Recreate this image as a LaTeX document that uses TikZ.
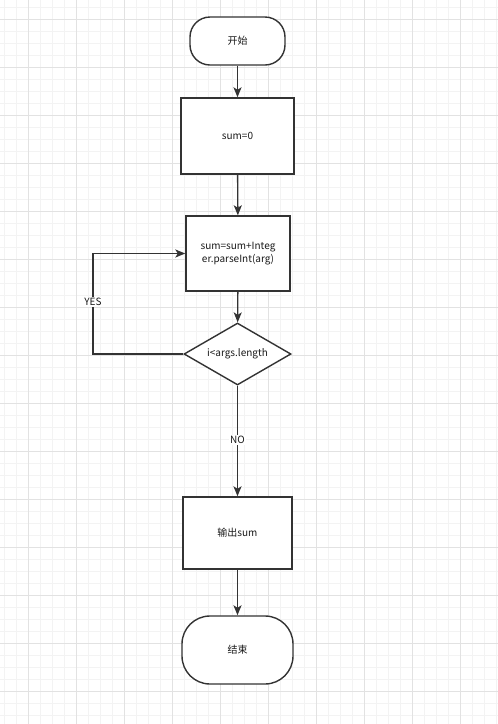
\documentclass[tikz,border=0pt]{standalone}
\usepackage{fontspec}
\setmainfont{Noto Sans CJK SC}
\usetikzlibrary{shapes.geometric,arrows.meta}
\definecolor{lineC}{HTML}{333333}
\definecolor{gridMinor}{HTML}{F3F3F3}
\definecolor{gridMajor}{HTML}{E2E2E2}
\begin{document}
\begin{tikzpicture}[x=1pt,y=-1pt,
  box/.style={draw=lineC,line width=1.4pt,fill=white,rectangle,inner sep=0pt,font=\fontsize{10}{12.5}\selectfont,align=center,text=black!90},
  term/.style={box,rounded corners=#1},
  dec/.style={box,diamond,aspect=1.73,minimum width=107pt,minimum height=62pt},
  conn/.style={draw=lineC,line width=1.4pt,-{Stealth[length=10pt,width=8pt,inset=2.5pt]}},
  lbl/.style={fill=white,inner sep=1pt,font=\fontsize{10}{12}\selectfont,text=black!90},
  minorL/.style={draw=gridMinor,line width=0.6pt},
  majorL/.style={draw=gridMajor,line width=0.7pt}]
\useasboundingbox (0,0) rectangle (498,724);
\fill[white] (0,0) rectangle (498,724);
\foreach \x in {4,16,...,496} \draw[minorL] (\x,0) -- (\x,724);
\foreach \y in {7,19,...,723} \draw[minorL] (0,\y) -- (498,\y);
\foreach \x in {28,76,...,496} \draw[majorL] (\x,0) -- (\x,724);
\foreach \y in {19,67,...,723} \draw[majorL] (0,\y) -- (498,\y);

\node[term=20pt,minimum width=95pt,minimum height=48pt] (start) at (237.5,41) {开始};
\node[box,minimum width=113pt,minimum height=76pt] (init) at (237.5,136) {sum=0};
\node[box,minimum width=104pt,minimum height=75pt] (add) at (238,253.5) {sum=sum+Integ\\er.parseInt(arg)};
\node[dec] (cond) at (237.5,354) {i<args.length};
\node[box,minimum width=109pt,minimum height=72pt] (out) at (237.5,533) {输出sum};
\node[term=28pt,minimum width=111pt,minimum height=68pt] (end) at (237.5,650) {结束};
\coordinate (lb) at (93,354);
\coordinate (lt) at (93,253.5);

\draw[conn] (start) -- (init);
\draw[conn] (init) -- (add);
\draw[conn] (add) -- (cond);
\draw[conn] (cond.west) -- (lb) -- (lt) -- (add.west);
\draw[conn] (cond) -- (out);
\draw[conn] (out) -- (end);
\node[lbl] (yes) at (93,302) {YES};
\node[lbl] (no) at (237.5,440) {NO};
\end{tikzpicture}
\end{document}
